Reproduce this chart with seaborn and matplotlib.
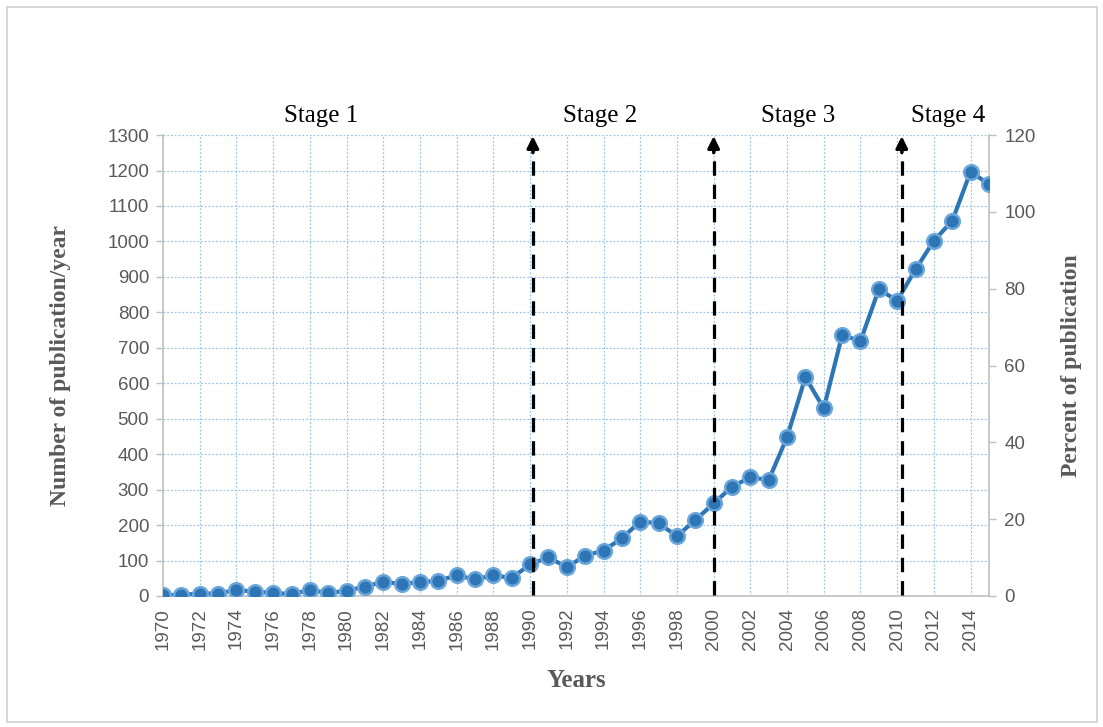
import matplotlib
matplotlib.use("Agg")
import matplotlib.pyplot as plt
import matplotlib.patches as mpatches
import pandas as pd
import seaborn as sns

# Data
years = list(range(1970, 2016))
publications = [3, 3, 7, 7, 17, 12, 9, 5, 17, 8,
                15, 26, 40, 34, 39, 43, 58, 47, 58, 51,
                89, 109, 81, 114, 128, 163, 210, 205, 169, 214,
                261, 308, 335, 327, 448, 617, 529, 736, 719, 865,
                833, 921, 1002, 1058, 1197, 1161]
stage_labels = ['Stage 1', 'Stage 2', 'Stage 3', 'Stage 4']
stage_label_x = [1978.6, 1993.8, 2004.6, 2012.8]
stage_marks = [1990.15, 2000.0, 2010.25]
xtick_years = list(range(1970, 2015, 2))

df = pd.DataFrame({'year': years, 'count': publications})

sns.set_style('white')
plt.rcParams['font.family'] = ['Liberation Sans', 'DejaVu Sans']

grey = '#595959'
grid_col = '#9DC3E6'
spine_col = '#BFBFBF'

fig = plt.figure(figsize=(11.03, 7.27), dpi=100)
ax = fig.add_axes([0.1478, 0.1802, 0.7488, 0.634])

# grid
for y in range(100, 1400, 100):
    ax.axhline(y, color=grid_col, lw=0.9, ls=(0, (1.5, 1.5)), zorder=0)
for x in xtick_years[1:]:
    ax.axvline(x, color=grid_col, lw=0.9, ls=(0, (1.5, 1.5)), zorder=0)

sns.lineplot(data=df, x='year', y='count', ax=ax, color='#2E75B6', lw=3,
             marker='o', markersize=10.5, markerfacecolor='#2E75B6',
             markeredgecolor='#6AA6DA', markeredgewidth=1.8, zorder=3)

# stage arrows
for xm in stage_marks:
    ax.plot([xm, xm], [2, 1255], color='black', lw=2.3, ls=(0, (4.5, 2.8)),
            zorder=4, solid_capstyle='butt')
    ax.annotate('', xy=(xm, 1297), xytext=(xm, 1250),
                arrowprops=dict(arrowstyle='-|>,head_width=0.35,head_length=0.7',
                                color='black', lw=2.3, shrinkA=0, shrinkB=0),
                zorder=5, annotation_clip=False)

for lbl, xs in zip(stage_labels, stage_label_x):
    ax.text(xs, 1355, lbl, ha='center', va='center', fontsize=18,
            family=['Liberation Serif'], color='black')

ax.set_xlim(1970, 2015)
ax.set_ylim(0, 1300)
ax.set_yticks(range(0, 1400, 100))
ax.set_xticks(xtick_years)
ax.set_xticklabels([str(y) for y in xtick_years], rotation=90)
ax.tick_params(axis='both', colors=spine_col, labelcolor=grey, labelsize=13.5,
               length=5, width=1, direction='out')
ax.tick_params(axis='y', labelsize=13.5, pad=5)

for side in ['left', 'bottom', 'right']:
    ax.spines[side].set_color(spine_col)
    ax.spines[side].set_linewidth(1.2)
ax.spines['top'].set_visible(False)

ax.set_xlabel('Years', fontsize=18, fontweight='bold', color=grey,
              family=['Liberation Serif'], labelpad=14)
ax.set_ylabel('Number of publication/year', fontsize=17, fontweight='bold',
              color=grey, family=['Liberation Serif'], labelpad=26)

# secondary axis (percent)
ax2 = ax.twinx()
ax2.set_ylim(0, 120)
ax2.set_yticks(range(0, 140, 20))
ax2.tick_params(axis='y', colors=spine_col, labelcolor=grey, labelsize=13.5,
                length=5, width=1, pad=6)
for s in ax2.spines.values():
    s.set_visible(False)
ax2.set_ylabel('Percent of publication', fontsize=17, fontweight='bold',
               color=grey, family=['Liberation Serif'], labelpad=18)

# outer frame
fig.patches.append(mpatches.Rectangle((7 / 1103, 5 / 727), 1090 / 1103, 715 / 727,
                                      transform=fig.transFigure, fill=False,
                                      edgecolor='#D0D0D0', lw=1.2))

fig.savefig('out.png', dpi=100)
